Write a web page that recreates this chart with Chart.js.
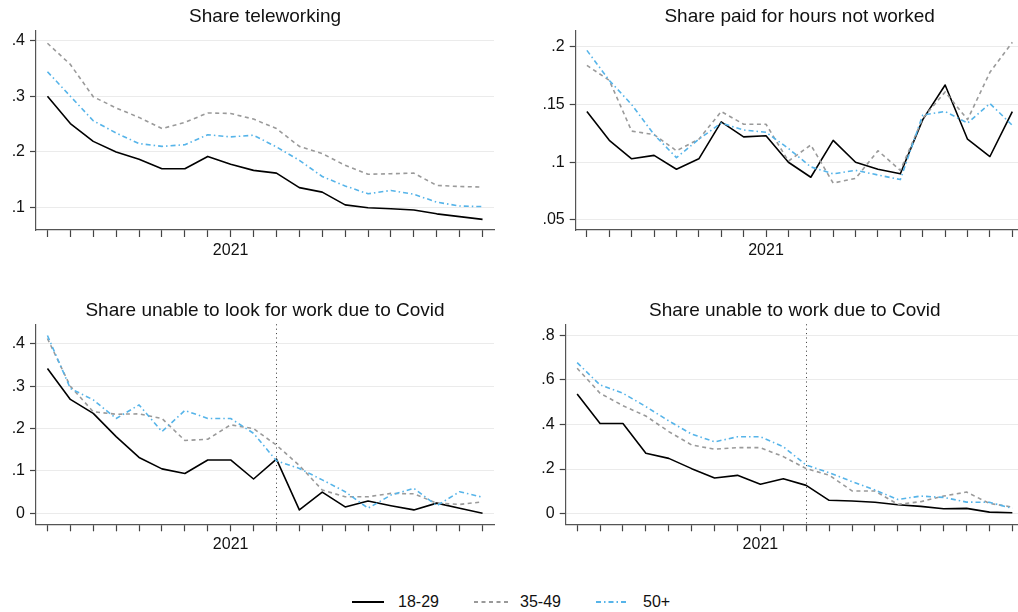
<!DOCTYPE html>
<html>
<head>
<meta charset="utf-8">
<script src="https://cdn.jsdelivr.net/npm/chart.js@4.4.1/dist/chart.umd.min.js"></script>
<style>
  html, body { margin: 0; padding: 0; background: #fff; overflow: hidden; width: 1018px; height: 612px; }
  canvas { position: absolute; }
  .legend { position: absolute; top: 592px; left: 0; width: 1018px; height: 20px;
            font-family: "Liberation Sans", Arial, Helvetica, sans-serif; font-size: 16px; color: #111; }
  .legend svg { position: absolute; top: 0; }
  .legend span { position: absolute; top: 1px; line-height: 18px; }
</style>
</head>
<body>
<canvas id="tele"></canvas>
<canvas id="paid"></canvas>
<canvas id="look"></canvas>
<canvas id="work"></canvas>
<div class="legend">
  <svg style="left:350px" width="36" height="20"><line x1="2" y1="10" x2="34" y2="10" stroke="#000" stroke-width="2"/></svg>
  <span style="left:398px">18-29</span>
  <svg style="left:472px" width="38" height="20"><line x1="2" y1="10" x2="36" y2="10" stroke="#999" stroke-width="1.8" stroke-dasharray="4 3.5"/></svg>
  <span style="left:520px">35-49</span>
  <svg style="left:594px" width="36" height="20"><line x1="2" y1="10" x2="32" y2="10" stroke="#56b4e9" stroke-width="1.8" stroke-dasharray="5 3 1.5 3"/></svg>
  <span style="left:643px">50+</span>
</div>
<script>
// Survey months, May 2020 to Dec 2021
const months = ['2020-05','2020-06','2020-07','2020-08','2020-09','2020-10','2020-11','2020-12',
                '2021-01','2021-02','2021-03','2021-04','2021-05','2021-06','2021-07','2021-08',
                '2021-09','2021-10','2021-11','2021-12'];
const seriesNames = ['18-29', '35-49', '50+'];

// Share teleworking
const tele_18_29 = [0.300,0.251,0.219,0.200,0.187,0.170,0.170,0.192,0.178,0.167,0.162,0.136,0.128,0.105,0.100,0.098,0.096,0.089,0.084,0.079];
const tele_35_49 = [0.395,0.357,0.299,0.279,0.262,0.242,0.253,0.270,0.269,0.259,0.242,0.210,0.197,0.176,0.160,0.161,0.162,0.140,0.138,0.137];
const tele_50p   = [0.344,0.300,0.256,0.234,0.215,0.210,0.213,0.231,0.227,0.230,0.209,0.185,0.156,0.139,0.125,0.131,0.124,0.110,0.103,0.102];
const teleTicks  = [0.1, 0.2, 0.3, 0.4];

// Share paid for hours not worked
const paid_18_29 = [0.144,0.119,0.103,0.106,0.094,0.103,0.135,0.122,0.123,0.100,0.087,0.119,0.100,0.094,0.090,0.137,0.167,0.120,0.105,0.144];
const paid_35_49 = [0.184,0.171,0.127,0.124,0.110,0.120,0.144,0.133,0.133,0.101,0.115,0.082,0.086,0.110,0.093,0.138,0.161,0.137,0.178,0.204];
const paid_50p   = [0.197,0.171,0.150,0.124,0.104,0.120,0.134,0.128,0.126,0.112,0.096,0.090,0.093,0.089,0.085,0.141,0.144,0.134,0.151,0.132];
const paidTicks  = [0.05, 0.10, 0.15, 0.20];

// Share unable to look for work due to Covid
const look_18_29 = [0.342,0.269,0.236,0.181,0.132,0.105,0.094,0.126,0.126,0.081,0.128,0.008,0.050,0.015,0.029,0.018,0.008,0.024,0.012,0.000];
const look_35_49 = [0.413,0.300,0.240,0.234,0.235,0.224,0.172,0.175,0.209,0.200,0.161,0.113,0.055,0.039,0.039,0.047,0.046,0.024,0.021,0.027];
const look_50p   = [0.420,0.295,0.268,0.224,0.256,0.193,0.243,0.224,0.224,0.189,0.124,0.106,0.079,0.051,0.012,0.043,0.059,0.018,0.051,0.038];
const lookTicks  = [0, 0.1, 0.2, 0.3, 0.4];

// Share unable to work due to Covid
const work_18_29 = [0.537,0.404,0.404,0.271,0.248,0.202,0.160,0.172,0.132,0.157,0.127,0.060,0.057,0.051,0.040,0.033,0.022,0.024,0.007,0.004];
const work_35_49 = [0.652,0.540,0.484,0.438,0.368,0.308,0.289,0.296,0.296,0.256,0.202,0.173,0.102,0.102,0.042,0.054,0.079,0.097,0.046,0.030];
const work_50p   = [0.677,0.577,0.540,0.480,0.416,0.357,0.322,0.345,0.345,0.300,0.218,0.184,0.144,0.106,0.064,0.079,0.073,0.052,0.051,0.024];
const workTicks  = [0, 0.2, 0.4, 0.6, 0.8];

// Month marked with a dotted reference line in the lower panels
const markerMonth = '2021-03';

const FONT = '"Liberation Sans", Arial, Helvetica, sans-serif';
Chart.defaults.font.family = FONT;
Chart.defaults.font.size = 16;
Chart.defaults.color = '#111';

const styles = [
  { borderColor: '#000000', borderWidth: 1.6, borderDash: [] },
  { borderColor: '#9a9a9a', borderWidth: 1.6, borderDash: [4, 3.5] },
  { borderColor: '#56b4e9', borderWidth: 1.6, borderDash: [5, 3, 1.5, 3] }
];

const fmtTick = v => {
  if (Math.abs(v) < 1e-9) return '0';
  return String(Math.round(v * 100) / 100).replace(/^0\./, '.');
};

const Y_W = 40, X_H = 40;

function panel(id, box, title, titleY, series, yMin, yMax, ticks, withMarker) {
  const cv = document.getElementById(id);
  cv.width = box.w; cv.height = box.h;
  cv.style.left = box.x + 'px'; cv.style.top = box.y + 'px';
  cv.style.width = box.w + 'px'; cv.style.height = box.h + 'px';

  const titlePlugin = {
    id: 'panelTitle',
    afterDraw(chart) {
      const { ctx, chartArea } = chart;
      ctx.save();
      ctx.font = '19px ' + FONT;
      ctx.fillStyle = '#111';
      ctx.textAlign = 'center';
      ctx.textBaseline = 'middle';
      ctx.fillText(title, (chartArea.left + chartArea.right) / 2, titleY);
      ctx.restore();
    }
  };
  const markerPlugin = {
    id: 'monthMarker',
    beforeDatasetsDraw(chart) {
      if (!withMarker) return;
      const { ctx, chartArea, scales } = chart;
      const x = Math.round(scales.x.getPixelForValue(months.indexOf(markerMonth))) + 0.5;
      ctx.save();
      ctx.strokeStyle = '#333';
      ctx.lineWidth = 1;
      ctx.setLineDash([1, 3.4]);
      ctx.beginPath();
      ctx.moveTo(x, chartArea.top);
      ctx.lineTo(x, chartArea.bottom);
      ctx.stroke();
      ctx.restore();
    }
  };

  return new Chart(cv, {
    type: 'line',
    data: {
      labels: months,
      datasets: series.map((d, i) => Object.assign({
        label: seriesNames[i], data: d, fill: false, tension: 0,
        pointRadius: 0, pointHoverRadius: 0, borderCapStyle: 'butt', borderJoinStyle: 'round'
      }, styles[i])).reverse()
    },
    options: {
      responsive: false,
      animation: false,
      devicePixelRatio: 1,
      events: [],
      layout: {
        padding: {
          left: box.left - Y_W,
          right: box.w - box.right,
          top: box.top,
          bottom: box.h - box.bottom - X_H
        }
      },
      plugins: { legend: { display: false }, title: { display: false }, tooltip: { enabled: false } },
      scales: {
        x: {
          type: 'category',
          offset: true,
          afterFit(s) { s.height = X_H; },
          border: { display: true, color: '#555', width: 1.2 },
          grid: { display: true, drawOnChartArea: false, drawTicks: true, tickLength: 7,
                  tickColor: '#444', tickWidth: 1.2, offset: false },
          ticks: {
            autoSkip: false, maxRotation: 0, minRotation: 0, padding: 4,
            color: '#111', font: { size: 16 },
            callback: (v, i) => months[i] === '2021-01' ? '2021' : ''
          }
        },
        y: {
          min: yMin, max: yMax,
          afterFit(s) { s.width = Y_W; },
          afterBuildTicks(s) { s.ticks = ticks.map(v => ({ value: v })); },
          border: { display: true, color: '#555', width: 1.2 },
          grid: { color: '#ebebeb', lineWidth: 1, drawTicks: true, tickLength: 6,
                  tickColor: '#444', tickWidth: 1.2 },
          ticks: { padding: 5, color: '#111', font: { size: 16 }, callback: v => fmtTick(v) }
        }
      }
    },
    plugins: [titlePlugin, markerPlugin]
  });
}

panel('tele', { x: 0, y: 0, w: 509, h: 290, left: 36, right: 494, top: 31, bottom: 230 },
      'Share teleworking', 17, [tele_18_29, tele_35_49, tele_50p], 0.060, 0.417, teleTicks, false);

panel('paid', { x: 509, y: 0, w: 530, h: 290, left: 66.7, right: 514.5, top: 31, bottom: 230 },
      'Share paid for hours not worked', 17, [paid_18_29, paid_35_49, paid_50p], 0.0413, 0.2138, paidTicks, false);

panel('look', { x: 0, y: 290, w: 509, h: 290, left: 36, right: 494, top: 34.3, bottom: 234.3 },
      'Share unable to look for work due to Covid', 20.7, [look_18_29, look_35_49, look_50p], -0.026, 0.4465, lookTicks, true);

panel('work', { x: 509, y: 290, w: 530, h: 290, left: 56.7, right: 514.8, top: 34.3, bottom: 234.3 },
      'Share unable to work due to Covid', 20.7, [work_18_29, work_35_49, work_50p], -0.0475, 0.849, workTicks, true);
</script>
</body>
</html>
